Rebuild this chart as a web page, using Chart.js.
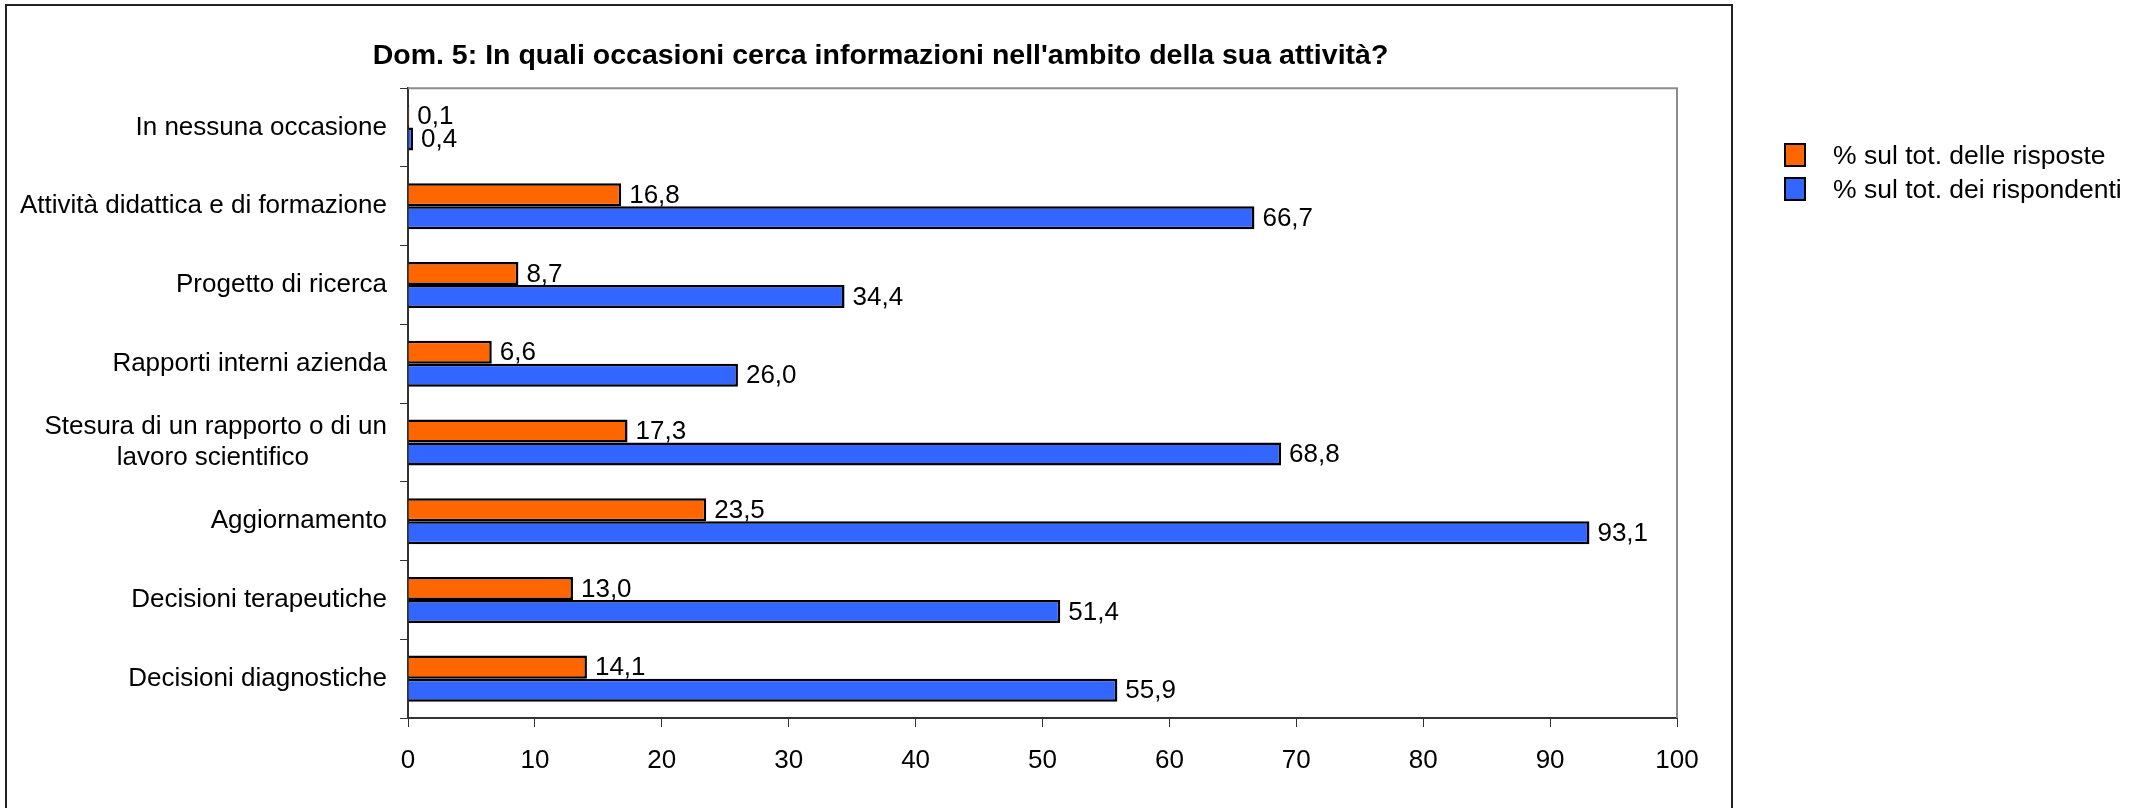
<!DOCTYPE html>
<html>
<head>
<meta charset="utf-8">
<script src="https://cdn.jsdelivr.net/npm/chart.js@4/dist/chart.umd.min.js"></script>
<style>
  body { margin: 0; background: #fff; }
  #wrap { position: relative; width: 2142px; height: 808px; }
  #legend { position: absolute; left: 1784px; top: 138px; font: 26.5px 'Liberation Sans', Arial, sans-serif; color: #000; }
  #legend .row { display: flex; align-items: center; height: 34px; }
  #legend .box { width: 18px; height: 20px; border: 2px solid #000; margin-right: 27px; }
</style>
</head>
<body>
<div id="wrap">
  <canvas id="myChart" width="2142" height="808"></canvas>
  <div id="legend"></div>
</div>
<script>
const categories = [
  'In nessuna occasione',
  'Attività didattica e di formazione',
  'Progetto di ricerca',
  'Rapporti interni azienda',
  ['Stesura di un rapporto o di un', 'lavoro scientifico' + '\u2002'.repeat(6)],
  'Aggiornamento',
  'Decisioni terapeutiche',
  'Decisioni diagnostiche'
];
const risposte = [0.1, 16.8, 8.7, 6.6, 17.3, 23.5, 13.0, 14.1];
const rispondenti = [0.4, 66.7, 34.4, 26.0, 68.8, 93.1, 51.4, 55.9];
const xTicks = [0, 10, 20, 30, 40, 50, 60, 70, 80, 90, 100];
const seriesNames = ['% sul tot. delle risposte', '% sul tot. dei rispondenti'];
const seriesColors = ['#FF6600', '#3366FF'];

Chart.defaults.font.family = "'Liberation Sans', Arial, sans-serif";
Chart.defaults.font.size = 26;
Chart.defaults.color = '#000';

// outer frame and plot border
const frame = {
  id: 'frame',
  beforeDraw(chart) {
    const ctx = chart.ctx;
    ctx.save();
    ctx.fillStyle = '#fff';
    ctx.fillRect(0, 0, chart.width, chart.height);
    ctx.strokeStyle = '#222';
    ctx.lineWidth = 2;
    ctx.strokeRect(6, 5, 1726, 900);
    ctx.restore();
  },
  afterDraw(chart) {
    const a = chart.chartArea, ctx = chart.ctx;
    ctx.save();
    ctx.strokeStyle = '#8c8c8c';
    ctx.lineWidth = 2;
    ctx.beginPath();
    ctx.moveTo(a.left, a.top);
    ctx.lineTo(a.right, a.top);
    ctx.lineTo(a.right, a.bottom);
    ctx.stroke();
    ctx.restore();
  }
};

// value labels at the end of each bar
const valueLabels = {
  id: 'valueLabels',
  afterDatasetsDraw(chart) {
    const ctx = chart.ctx;
    ctx.save();
    ctx.font = "26px 'Liberation Sans', Arial, sans-serif";
    ctx.fillStyle = '#000';
    ctx.textBaseline = 'middle';
    ctx.textAlign = 'left';
    chart.data.datasets.forEach((ds, i) => {
      chart.getDatasetMeta(i).data.forEach((bar, j) => {
        const txt = ds.data[j].toFixed(1).replace('.', ',');
        ctx.fillText(txt, bar.x + 8, bar.y + 1);
      });
    });
    ctx.restore();
  }
};

var myChart = new Chart(
  document.getElementById('myChart'),
  {
    type: 'bar',
    data: {
      labels: categories,
      datasets: [
        { label: seriesNames[0], data: risposte, backgroundColor: seriesColors[0] },
        { label: seriesNames[1], data: rispondenti, backgroundColor: seriesColors[1] }
      ]
    },
    options: {
      indexAxis: 'y',
      responsive: false,
      animation: false,
      devicePixelRatio: 1,
      layout: { padding: { left: 0, right: 381, top: 0, bottom: 0 } },
      datasets: {
        bar: {
          categoryPercentage: 0.585,
          barPercentage: 1,
          borderColor: '#000',
          borderWidth: 2.5
        }
      },
      plugins: {
        legend: { display: false },
        tooltip: { enabled: false },
        title: {
          display: true,
          text: "Dom. 5: In quali occasioni cerca informazioni nell'ambito della sua attività?",
          font: { size: 28.5, weight: 'bold' },
          color: '#000',
          padding: { top: 39, bottom: 15 }
        }
      },
      scales: {
        x: {
          min: 0,
          max: 100,
          afterBuildTicks(scale) { scale.ticks = xTicks.map(v => ({ value: v })); },
          afterFit(scale) { scale.height = 90; },
          ticks: { padding: 18, color: '#000' },
          grid: { drawOnChartArea: false, drawTicks: true, tickLength: 9, color: '#333', lineWidth: 1 },
          border: { display: true, color: '#333', width: 2 }
        },
        y: {
          afterFit(scale) { scale.width = 408; },
          ticks: { padding: 13, autoSkip: false, color: '#000' },
          grid: { drawOnChartArea: false, drawTicks: true, tickLength: 8, color: '#333', lineWidth: 1 },
          border: { display: true, color: '#333', width: 2 }
        },
        // empty strip between plot and frame, keeps the title centred on the frame
        yGap: {
          type: 'linear',
          position: 'right',
          min: 0,
          max: 1,
          afterFit(scale) { scale.width = 84; },
          ticks: { display: false },
          grid: { display: false },
          border: { display: false }
        }
      }
    },
    plugins: [frame, valueLabels]
  }
);

// legend in the right margin
const legendEl = document.getElementById('legend');
seriesNames.forEach((name, i) => {
  const row = document.createElement('div');
  row.className = 'row';
  const box = document.createElement('span');
  box.className = 'box';
  box.style.background = seriesColors[i];
  const txt = document.createElement('span');
  txt.textContent = name;
  row.appendChild(box);
  row.appendChild(txt);
  legendEl.appendChild(row);
});
</script>
</body>
</html>
